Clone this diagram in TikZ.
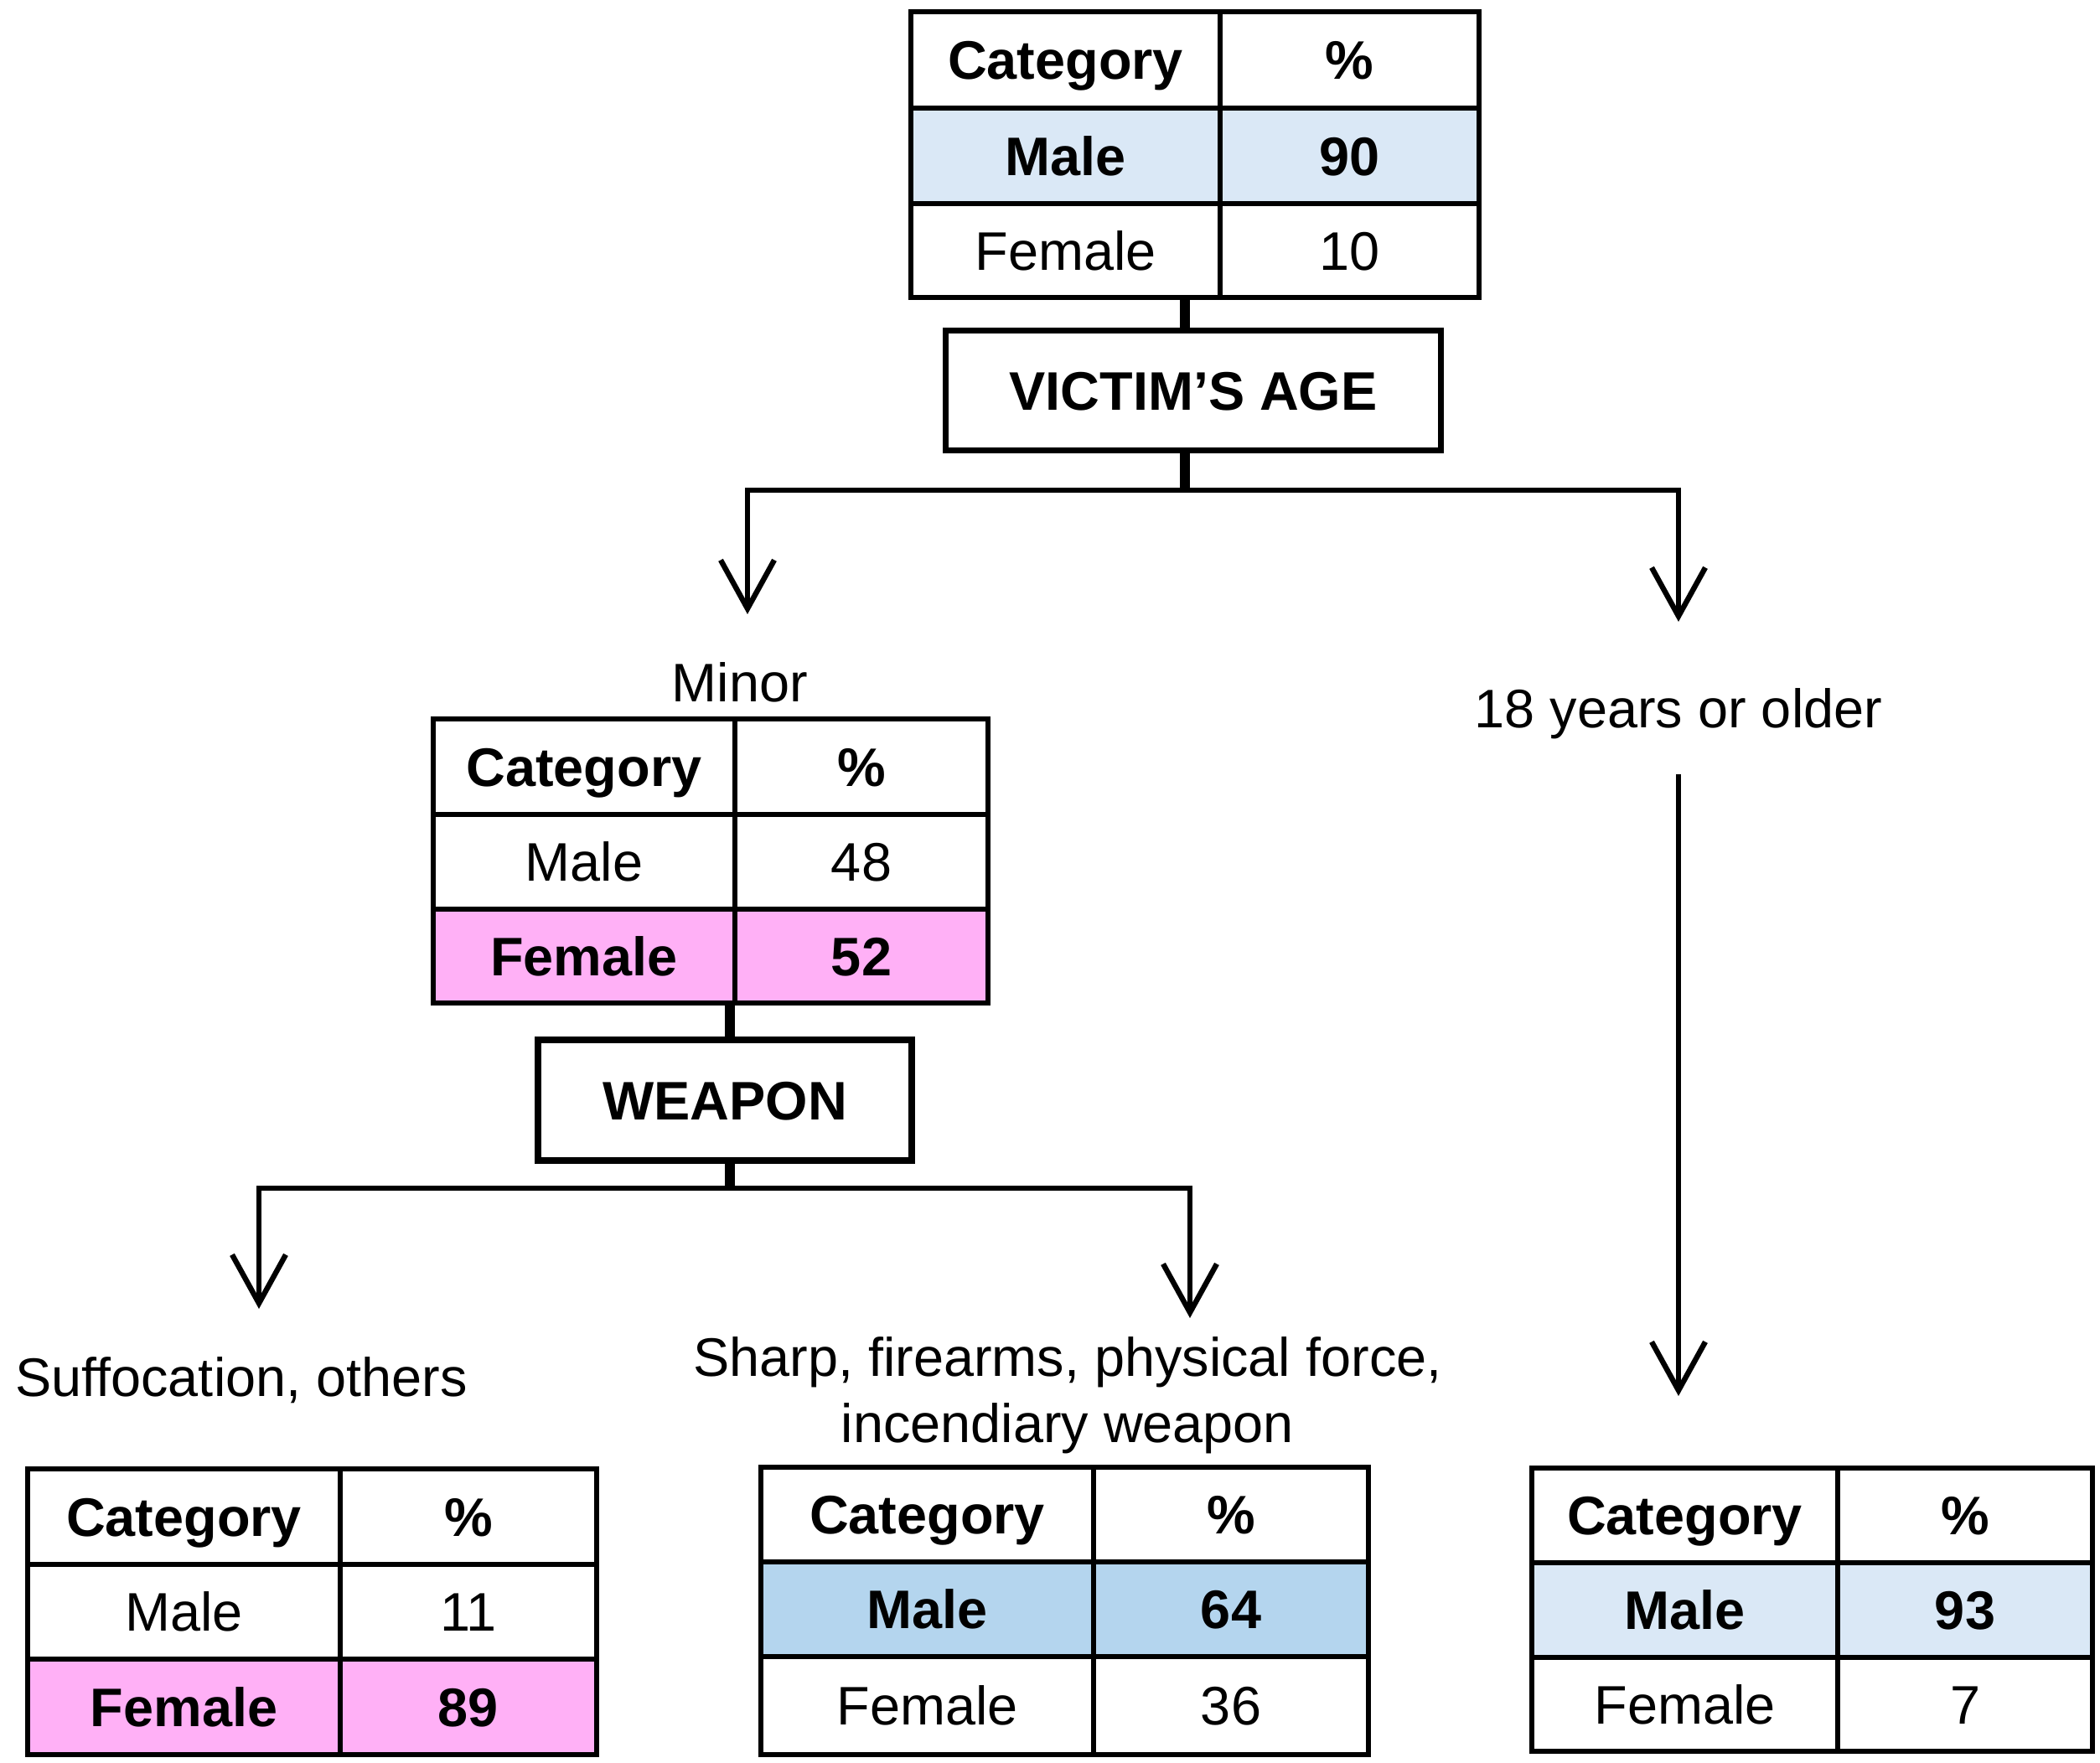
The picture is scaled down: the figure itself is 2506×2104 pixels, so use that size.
\documentclass[tikz,border=0pt]{standalone}
\usepackage{fontspec}
\setmainfont{Liberation Sans}
\usetikzlibrary{arrows.meta}
\definecolor{lblue}{RGB}{218,232,246}
\definecolor{mblue}{RGB}{180,213,238}
\definecolor{tpink}{RGB}{255,176,246}
\newcommand{\tcell}[7]{\node[cell, fill=#6, minimum width={(#4-#2)*0.25pt}, minimum height={(#5-#3)*0.25pt}] (#1) at ({(#2+#4)/2},{(#3+#5)/2}) {#7};}
\begin{document}
\begin{tikzpicture}[x=0.25pt,y=-0.25pt,
  every node/.style={font=\fontsize{16.2}{19.75}\selectfont},
  cell/.style={draw, line width=1.7pt, inner sep=0pt, outer sep=0pt, text height=11.6pt, text depth=0pt},
  qbox/.style={draw, line width=1.8pt, inner sep=0pt, outer sep=0pt, text height=11.6pt, text depth=0pt, font=\fontsize{16.2}{19.75}\selectfont\bfseries},
  lbl/.style={inner sep=0pt},
  conn/.style={line width=1.6pt},
  stub/.style={line width=3.1pt},
  arr/.style={-{Straight Barb[length=14.5pt,width=16pt]}}]
\useasboundingbox (0,0) rectangle (2506,2104);
% Table 1 (all)
\tcell{t1hc}{1087}{14}{1456}{129}{white}{\bfseries Category}
\tcell{t1hv}{1456}{14}{1765}{129}{white}{\bfseries \%}
\tcell{t1mc}{1087}{129}{1456}{243}{lblue}{\bfseries Male}
\tcell{t1mv}{1456}{129}{1765}{243}{lblue}{\bfseries 90}
\tcell{t1fc}{1087}{243}{1456}{355}{white}{Female}
\tcell{t1fv}{1456}{243}{1765}{355}{white}{10}
% Victim's age
\node[qbox, minimum width=147.75pt, minimum height=35.75pt] (vage) at (1424,466) {VICTIM’S AGE};
\coordinate (j1) at (1414,585);
\coordinate (aL) at (892,733);
\coordinate (aR) at (2003,742);
\draw[stub] (t1fc.south -| j1) -- (vage.north -| j1);
\draw[stub] (vage.south -| j1) -- (j1);
\draw[conn,arr] (j1) -| (aL);
\draw[conn,arr] (j1) -| (aR);
% Minor
\node[lbl] (minor) at (883,814) {Minor};
\tcell{t2hc}{517}{858}{877}{972}{white}{\bfseries Category}
\tcell{t2hv}{877}{858}{1179}{972}{white}{\bfseries \%}
\tcell{t2mc}{517}{972}{877}{1085}{white}{Male}
\tcell{t2mv}{877}{972}{1179}{1085}{white}{48}
\tcell{t2fc}{517}{1085}{877}{1197}{tpink}{\bfseries Female}
\tcell{t2fv}{877}{1085}{1179}{1197}{tpink}{\bfseries 52}
% Weapon
\node[qbox, minimum width=111.5pt, minimum height=36pt] (weapon) at (865,1313) {WEAPON};
\coordinate (j2) at (871,1418);
\coordinate (bL) at (309,1562);
\coordinate (bR) at (1420,1573);
\draw[stub] (t2fc.south -| j2) -- (weapon.north -| j2);
\draw[stub] (weapon.south -| j2) -- (j2);
\draw[conn,arr] (j2) -| (bL);
\draw[conn,arr] (j2) -| (bR);
% Suffocation
\node[lbl] (suff) at (288,1647) {Suffocation, others};
\tcell{t3hc}{33}{1753}{406}{1867}{white}{\bfseries Category}
\tcell{t3hv}{406}{1753}{712}{1867}{white}{\bfseries \%}
\tcell{t3mc}{33}{1867}{406}{1980}{white}{Male}
\tcell{t3mv}{406}{1867}{712}{1980}{white}{11}
\tcell{t3fc}{33}{1980}{406}{2094}{tpink}{\bfseries Female}
\tcell{t3fv}{406}{1980}{712}{2094}{tpink}{\bfseries 89}
% Sharp
\node[lbl, align=center] (sharp) at (1274,1665) {Sharp, firearms, physical force,\\incendiary weapon};
\tcell{t4hc}{908}{1751}{1305}{1864}{white}{\bfseries Category}
\tcell{t4hv}{1305}{1751}{1633}{1864}{white}{\bfseries \%}
\tcell{t4mc}{908}{1864}{1305}{1977}{mblue}{\bfseries Male}
\tcell{t4mv}{1305}{1864}{1633}{1977}{mblue}{\bfseries 64}
\tcell{t4fc}{908}{1977}{1305}{2094}{white}{Female}
\tcell{t4fv}{1305}{1977}{1633}{2094}{white}{36}
% Adult
\node[lbl] (adult) at (2003,852) {18 years or older};
\tcell{t5hc}{1828}{1752}{2193}{1865}{white}{\bfseries Category}
\tcell{t5hv}{2193}{1752}{2497}{1865}{white}{\bfseries \%}
\tcell{t5mc}{1828}{1865}{2193}{1978}{lblue}{\bfseries Male}
\tcell{t5mv}{2193}{1865}{2497}{1978}{lblue}{\bfseries 93}
\tcell{t5fc}{1828}{1978}{2193}{2090}{white}{Female}
\tcell{t5fv}{2193}{1978}{2497}{2090}{white}{7}
\draw[conn,arr,shorten <=18pt,shorten >=21.5pt] (adult.center) -- (adult.center |- t5hc.north);
\end{tikzpicture}
\end{document}
